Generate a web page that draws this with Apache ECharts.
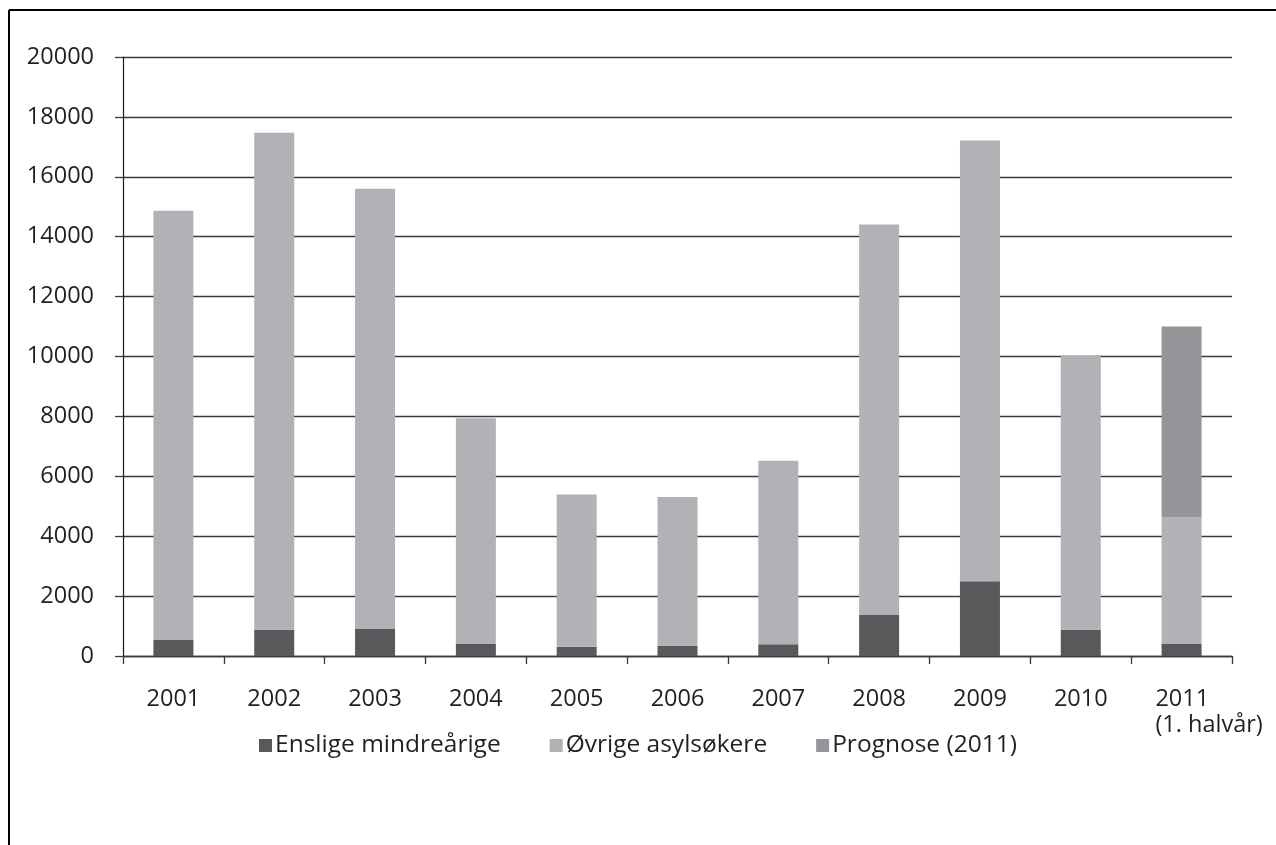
<!DOCTYPE html>
<html>
<head>
<meta charset="utf-8">
<script src="https://cdn.jsdelivr.net/npm/echarts@6/dist/echarts.min.js"></script>
<style>
html,body{margin:0;padding:0;background:#fff;}
#c{width:1276px;height:845px;}
</style>
</head>
<body>
<div id="c"></div>
<script>
const categories = ['2001','2002','2003','2004','2005','2006','2007','2008','2009','2010','2011'];
const enslige = [550, 880, 900, 400, 310, 340, 390, 1370, 2500, 880, 400];
const ovrige = [14320, 16590, 14700, 7540, 5080, 4970, 6130, 13040, 14710, 9160, 4230];
const prognose = [null, null, null, null, null, null, null, null, null, null, 6370];
const seriesNames = ['Enslige mindreårige', 'Øvrige asylsøkere', 'Prognose (2011)'];
const lastLabelSuffix = '(1. halvår)';
const yMin = 0, yMax = 20000, yStep = 2000;

const FONT = '"Open Sans", "DejaVu Sans", sans-serif';
const TXT = '#231f20';
const colors = ['#58595b', '#b1b2b5', '#939598'];
const AX_FS = 23.5;

const chart = echarts.init(document.getElementById('c'), null, {renderer: 'canvas'});

chart.setOption({
  animation: false,
  backgroundColor: '#fff',
  color: colors,
  graphic: [
    {type: 'line', shape: {x1: 9, y1: 10, x2: 1276, y2: 10}, style: {stroke: '#000', lineWidth: 2}},
    {type: 'line', shape: {x1: 9, y1: 10, x2: 9, y2: 845}, style: {stroke: '#000', lineWidth: 2}}
  ],
  grid: {left: 123, right: 44, top: 57, bottom: 189, containLabel: false},
  legend: {
    bottom: 82,
    left: 'center',
    icon: 'rect',
    itemWidth: 13,
    itemHeight: 13,
    itemGap: 49,
    textStyle: {fontFamily: FONT, fontSize: 24.5, color: TXT, padding: [0, 0, 0, -2]},
    data: seriesNames
  },
  xAxis: {
    type: 'category',
    data: categories,
    boundaryGap: true,
    axisLine: {show: true, lineStyle: {color: '#3a3a3a', width: 1.3}},
    axisTick: {show: true, alignWithLabel: false, interval: 0, length: 8, lineStyle: {color: '#3a3a3a', width: 1.3}},
    axisLabel: {
      interval: 0,
      margin: 30,
      fontFamily: FONT,
      fontSize: AX_FS,
      color: TXT,
      lineHeight: 26,
      formatter: function (v, i) {
        if (i === categories.length - 1) {
          return '{p|' + v + '}\n{p|' + lastLabelSuffix + '}';
        }
        return v;
      },
      rich: {
        p: {fontFamily: FONT, fontSize: AX_FS, color: TXT, lineHeight: 26, align: 'left', padding: [0, 0, 0, 55]}
      }
    },
    splitLine: {show: false}
  },
  yAxis: {
    type: 'value',
    min: yMin,
    max: yMax,
    interval: yStep,
    axisLine: {show: true, lineStyle: {color: '#1a1a1a', width: 1.2}},
    axisTick: {show: true, length: 8, lineStyle: {color: '#3a3a3a', width: 1.3}},
    axisLabel: {margin: 29, fontFamily: FONT, fontSize: AX_FS, color: TXT, formatter: function (v) { return String(v); }},
    splitLine: {show: true, lineStyle: {color: '#3a3a3a', width: 1.3}}
  },
  series: [
    {name: seriesNames[0], type: 'bar', stack: 'a', data: enslige, barWidth: 40, itemStyle: {color: colors[0]}},
    {name: seriesNames[1], type: 'bar', stack: 'a', data: ovrige, barWidth: 40, itemStyle: {color: colors[1]}},
    {name: seriesNames[2], type: 'bar', stack: 'a', data: prognose, barWidth: 40, itemStyle: {color: colors[2]}}
  ]
});
</script>
</body>
</html>
